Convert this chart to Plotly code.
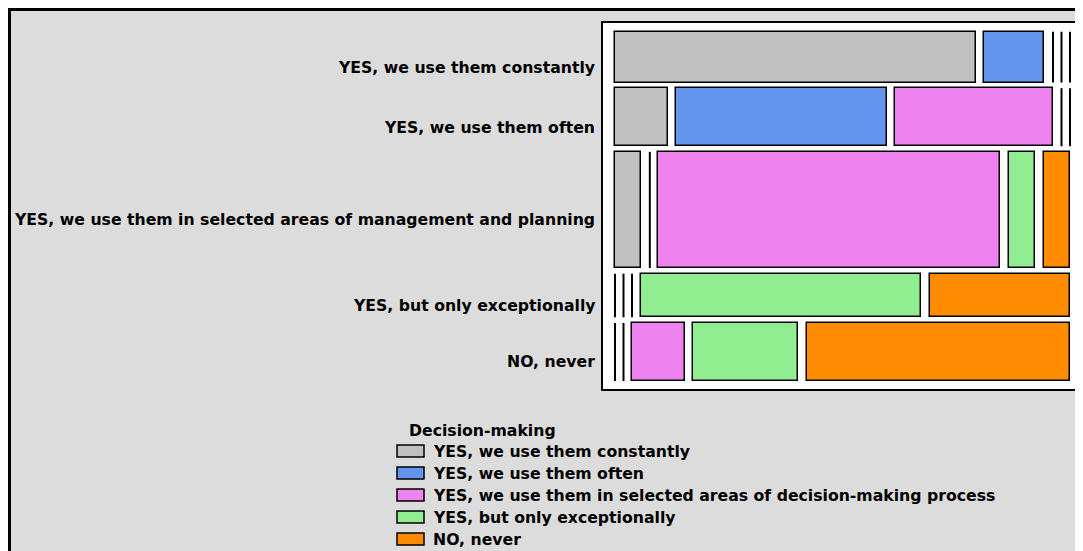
import plotly.graph_objects as go

# filas (uso en gestión / planificación) y columnas (toma de decisiones)
rows = [
    'YES, we use them constantly',
    'YES, we use them often',
    'YES, we use them in selected areas of management and planning',
    'YES, but only exceptionally',
    'NO, never',
]
cols = [
    'YES, we use them constantly',
    'YES, we use them often',
    'YES, we use them in selected areas of decision-making process',
    'YES, but only exceptionally',
    'NO, never',
]
colors = ['#C0C0C0', '#6495ED', '#EE82EE', '#90EE90', '#FF8C00']

# conteos (fila x columna)
counts_constantly = [6, 1, 0, 0, 0]
counts_often = [1, 4, 3, 0, 0]
counts_selected = [1, 0, 13, 1, 1]
counts_exceptionally = [0, 0, 0, 4, 2]
counts_never = [0, 0, 1, 2, 5]
table = [counts_constantly, counts_often, counts_selected,
         counts_exceptionally, counts_never]

W, H = 1083, 551
OFF = 8          # margen del <body> en la página
GAP_X = 0.0202   # separación horizontal (fracción de fila)
GAP_Y = 0.77     # separación vertical (en conteos)

# posiciones medidas en pantalla -> coordenadas paper
def px(x):
    return (x - OFF) / W

def py(y):
    return 1 - (y - OFF) / H

# posiciones de cada rectángulo
segs = {j: dict(y=[], x=[], base=[], width=[]) for j in range(len(cols))}
zero_x, zero_y = [], []
row_centers = []
top = 0.0
for i, row in enumerate(table):
    n = sum(row)
    center = top + n / 2
    row_centers.append(center)
    cum = 0.0
    for j, c in enumerate(row):
        start = cum + j * GAP_X
        frac = c / n
        if c > 0:
            segs[j]['y'].append(center)
            segs[j]['x'].append(frac)
            segs[j]['base'].append(start)
            segs[j]['width'].append(n)
        else:
            # categoría vacía: sólo una línea vertical
            zero_x += [start, start, None]
            zero_y += [top, top + n, None]
        cum += frac
    top += n + GAP_Y
total_y = top - GAP_Y
total_x = 1 + (len(cols) - 1) * GAP_X

fig = go.Figure()
for j in range(len(cols)):
    fig.add_trace(go.Bar(
        orientation='h',
        y=segs[j]['y'], x=segs[j]['x'], base=segs[j]['base'],
        width=segs[j]['width'],
        marker=dict(color=colors[j], line=dict(color='black', width=1.5)),
        name=cols[j], showlegend=False,
    ))
fig.add_trace(go.Scatter(
    x=zero_x, y=zero_y, mode='lines',
    line=dict(color='black', width=2), showlegend=False, hoverinfo='skip',
))

shapes = [
    # marco exterior gris
    dict(type='rect', xref='paper', yref='paper', x0=1.5 / W, x1=1 - 1.5 / W,
         y0=1.5 / H, y1=1 - 1.5 / H, fillcolor='#DCDCDC',
         line=dict(color='black', width=3), layer='below'),
    # marco blanco del gráfico
    dict(type='rect', xref='paper', yref='paper', x0=px(602), x1=px(1081),
         y0=py(390), y1=py(22), fillcolor='white',
         line=dict(color='black', width=2), layer='below'),
]

font_b = dict(family='DejaVu Sans', size=15.7, color='black')
annotations = []
for label, c in zip(rows, row_centers):
    annotations.append(dict(
        x=px(597), xref='paper', y=c, yref='y', text='<b>%s</b>' % label,
        showarrow=False, xanchor='right', yanchor='middle', yshift=-10,
        font=font_b,
    ))

# leyenda manual
annotations.append(dict(
    x=px(407), y=py(430), xref='paper', yref='paper',
    text='<b>Decision-making</b>', showarrow=False,
    xanchor='left', yanchor='middle', font=font_b,
))
for k, name in enumerate(cols):
    yc = 451 + 22 * k
    shapes.append(dict(
        type='rect', xref='paper', yref='paper',
        x0=px(397), x1=px(424), y0=py(yc + 6), y1=py(yc - 6),
        fillcolor=colors[k], line=dict(color='black', width=1.5),
    ))
    annotations.append(dict(
        x=px(431), y=py(yc), xref='paper', yref='paper',
        text='<b>%s</b>' % name, showarrow=False,
        xanchor='left', yanchor='middle', font=font_b,
    ))

# título cortado en la parte superior (queda fuera del marco)
annotations.append(dict(
    x=15 / W, y=1, xref='paper', yref='paper',
    text='Figure 3. Use in decision-making', showarrow=False,
    xanchor='left', yanchor='bottom', yshift=2,
    font=dict(family='Liberation Serif', size=24, color='black'),
))

fig.update_layout(
    width=W, height=H,
    margin=dict(l=0, r=0, t=0, b=0),
    paper_bgcolor='white', plot_bgcolor='rgba(0,0,0,0)',
    barmode='overlay', bargap=0,
    shapes=shapes, annotations=annotations,
    xaxis=dict(domain=[px(602), px(1081)],
               range=[-13 / 421, total_x + 11 / 421],
               showgrid=False, zeroline=False, showticklabels=False,
               fixedrange=True),
    yaxis=dict(domain=[py(390), py(22)],
               range=[total_y + 9 / 7.26, -9.7 / 7.26],
               showgrid=False, zeroline=False, showticklabels=False,
               fixedrange=True),
)

fig.write_html('out.html')
